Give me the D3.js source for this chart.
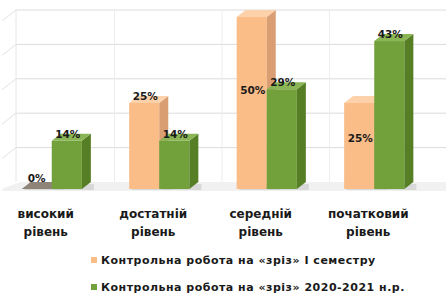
<!DOCTYPE html>
<html>
<head>
<meta charset="utf-8">
<script src="https://cdn.jsdelivr.net/npm/d3@7/dist/d3.min.js"></script>
<style>
  body { margin: 0; background: #fff; }
  svg { display: block; }
  text { font-family: "DejaVu Sans", sans-serif; font-weight: bold; fill: #1a1a1a; }
</style>
</head>
<body>
<div id="chart"></div>
<script>
// рівні навчальних досягнень
var categories = [
    ['високий', 'рівень'],
    ['достатній', 'рівень'],
    ['середній', 'рівень'],
    ['початковий', 'рівень']
];
var seriesNames = [
    'Контрольна робота на «зріз» І семестру',
    'Контрольна робота на «зріз» 2020-2021 н.р.'
];
var semesterValues = [0, 25, 50, 25];
var yearValues = [14, 14, 29, 43];
var gridTicks = [0, 10, 20, 30, 40, 50];

var W = 446, H = 300;
var depth = { dx: 9, dy: 7 };
var colors = [
    { front: '#fbbd88', side: '#d99f72', top: '#fdd1a9', zero: '#8f8478' },
    { front: '#72a03a', side: '#557e25', top: '#8ab554', zero: '#557e25' }
];

var svg = d3.select('#chart').append('svg')
    .attr('width', W)
    .attr('height', H);

var catKeys = categories.map(function (c) { return c.join(' '); });
var x = d3.scaleBand()
    .domain(catKeys)
    .range([-2, 428])
    .paddingInner(0.44)
    .paddingOuter(0.22);
var xs = d3.scaleBand()
    .domain([0, 1])
    .range([0, x.bandwidth()]);
var y = d3.scaleLinear()
    .domain([0, 50])
    .range([189, 17]);

// стіни та сітка
var grid = svg.append('g').attr('class', 'grid');
grid.append('path')
    .attr('d', 'M' + (x.range()[0] + 4) + ',' + y(0) + 'L' + (x.range()[0] + 4 + depth.dx * 2) + ',' + (y(0) - depth.dy) +
        'L' + W + ',' + (y(0) - depth.dy) + 'L' + W + ',' + (y(0) + 2) + 'L' + (x.range()[0] + 4) + ',' + (y(0) + 2) + 'Z')
    .attr('fill', '#f1f1f1');
gridTicks.forEach(function (t) {
    if (t === 0) return;
    grid.append('line')
        .attr('x1', 16).attr('x2', W)
        .attr('y1', y(t) - depth.dy).attr('y2', y(t) - depth.dy)
        .attr('stroke', '#dcdcdc');
    grid.append('line')
        .attr('x1', 2).attr('x2', 16)
        .attr('y1', y(t) + 4).attr('y2', y(t) - depth.dy)
        .attr('stroke', '#e2e2e2');
});
grid.append('line')
    .attr('x1', 16).attr('x2', 16)
    .attr('y1', y(50) - depth.dy).attr('y2', y(0) - depth.dy)
    .attr('stroke', '#e6e6e6');
catKeys.slice(1).forEach(function (c) {
    var bx = x(c) - x.step() * x.paddingInner() / 2 + depth.dx;
    grid.append('line')
        .attr('x1', bx).attr('x2', bx)
        .attr('y1', y(50) - depth.dy).attr('y2', y(0) - depth.dy)
        .attr('stroke', '#ededed');
});

// стовпчики
var data = [];
[semesterValues, yearValues].forEach(function (vals, s) {
    vals.forEach(function (v, i) {
        data.push({ s: s, cat: catKeys[i], value: v });
    });
});

var bars = svg.append('g').selectAll('g.bar')
    .data(data)
    .enter()
    .append('g')
    .attr('class', 'bar');

bars.each(function (d) {
    var g = d3.select(this);
    var x0 = x(d.cat) + xs(d.s);
    var x1 = x0 + xs.bandwidth();
    var y0 = y(0);
    var y1 = y(d.value);
    var c = colors[d.s];
    // тінь
    g.append('path')
        .attr('d', 'M' + (x0 + 2) + ',' + (y0 + 1) + 'L' + (x1 + depth.dx + 3) + ',' + (y0 + 1) +
            'L' + (x1 + depth.dx + 3) + ',' + (y0 - depth.dy + 2) + 'L' + (x0 + depth.dx) + ',' + (y0 - depth.dy + 2) + 'Z')
        .attr('fill', '#c8c8c8')
        .attr('opacity', 0.6);
    if (d.value === 0) {
        g.append('path')
            .attr('d', 'M' + x0 + ',' + y0 + 'L' + x1 + ',' + y0 + 'L' + (x1 + depth.dx) + ',' + (y0 - depth.dy) +
                'L' + (x0 + depth.dx) + ',' + (y0 - depth.dy) + 'Z')
            .attr('fill', c.zero);
        return;
    }
    g.append('rect')
        .attr('x', x0).attr('y', y1)
        .attr('width', xs.bandwidth()).attr('height', y0 - y1)
        .attr('fill', c.front);
    g.append('path')
        .attr('d', 'M' + x1 + ',' + y1 + 'L' + (x1 + depth.dx) + ',' + (y1 - depth.dy) +
            'L' + (x1 + depth.dx) + ',' + (y0 - depth.dy) + 'L' + x1 + ',' + y0 + 'Z')
        .attr('fill', c.side);
    g.append('path')
        .attr('d', 'M' + x0 + ',' + y1 + 'L' + x1 + ',' + y1 + 'L' + (x1 + depth.dx) + ',' + (y1 - depth.dy) +
            'L' + (x0 + depth.dx) + ',' + (y1 - depth.dy) + 'Z')
        .attr('fill', c.top);
});

// підписи значень
var insideCats = [catKeys[2], catKeys[3]];
svg.append('g').selectAll('text.value')
    .data(data)
    .enter()
    .append('text')
    .attr('class', 'value')
    .attr('text-anchor', 'middle')
    .attr('font-size', 10.5)
    .attr('x', function (d) { return x(d.cat) + xs(d.s) + xs.bandwidth() / 2 + (d.value === 0 ? 0 : 1); })
    .attr('y', function (d) {
        if (d.s === 0 && insideCats.indexOf(d.cat) >= 0) {
            return y(d.value) + (y(0) - y(d.value)) * 0.45;
        }
        return y(d.value) - (d.value === 0 ? 7 : 3);
    })
    .text(function (d) { return d.value + '%'; });

// підписи категорій
var labels = svg.append('g').selectAll('text.cat')
    .data(categories)
    .enter()
    .append('text')
    .attr('class', 'cat')
    .attr('text-anchor', 'middle')
    .attr('font-size', 12)
    .attr('x', function (d, i) { return x(catKeys[i]) + x.bandwidth() / 2 - 6; })
    .attr('y', 218);
labels.selectAll('tspan')
    .data(function (d) { return d; })
    .enter()
    .append('tspan')
    .attr('x', function () { return d3.select(this.parentNode).attr('x'); })
    .attr('dy', function (d, i) { return i === 0 ? 0 : 18; })
    .text(function (d) { return d; });

// легенда
var legend = svg.append('g').selectAll('g.legend')
    .data(seriesNames)
    .enter()
    .append('g')
    .attr('class', 'legend')
    .attr('transform', function (d, i) { return 'translate(91,' + (261 + i * 27) + ')'; });
legend.append('rect')
    .attr('x', 0).attr('y', -4)
    .attr('width', 6).attr('height', 6)
    .attr('fill', function (d, i) { return colors[i].front; });
legend.append('text')
    .attr('x', 10)
    .attr('y', 3)
    .attr('font-size', 11)
    .attr('letter-spacing', 0.5)
    .text(function (d) { return d; });
</script>
</body>
</html>
